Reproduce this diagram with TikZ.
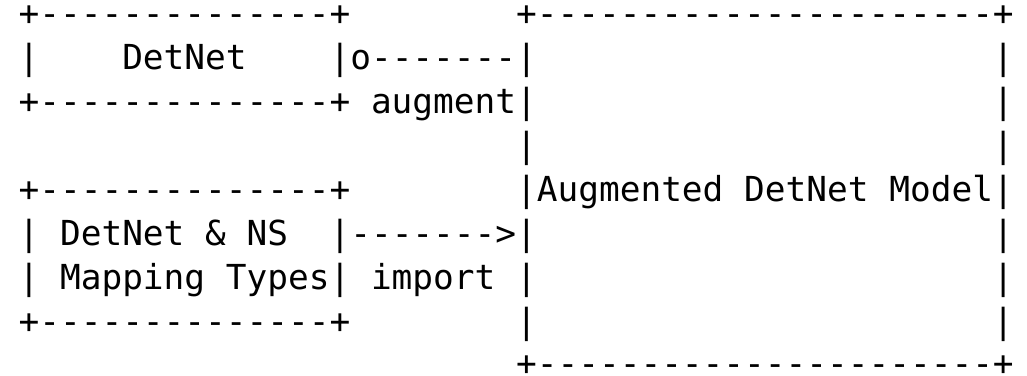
\documentclass[tikz,border=0pt]{standalone}
\usepackage{fontspec}
\newfontfamily\asciifont{DejaVu Sans Mono}
\begin{document}
\begin{tikzpicture}[x=1pt,y=-1pt,
  txt/.style={anchor=base west,inner sep=0pt,outer sep=0pt,text=black,
    font=\asciifont\fontsize{34.44}{44}\selectfont}]
\useasboundingbox[fill=white] (0,0) rectangle (1027,375);
% row 1
\node[txt] (r1a) at (18.6,25) {+--------------+};
\node[txt] (r1b) at (516.12,25) {+----------------------+};
% row 2
\node[txt] (r2a) at (18.6,69) {|};
\node[txt] (r2b) at (122.25,69) {DetNet};
\node[txt] (r2c) at (329.55,69) {|o-------|};
\node[txt] (r2d) at (992.91,69) {|};
% row 3
\node[txt] (r3a) at (18.6,113) {+--------------+};
\node[txt] (r3b) at (371.01,113) {augment|};
\node[txt] (r3c) at (992.91,113) {|};
% row 4
\node[txt] (r4a) at (516.12,157) {|};
\node[txt] (r4b) at (992.91,157) {|};
% row 5
\node[txt] (r5a) at (18.6,201) {+--------------+};
\node[txt] (r5b) at (516.12,201) {|Augmented DetNet Model|};
% row 6
\node[txt] (r6a) at (18.6,245) {| DetNet \& NS};
\node[txt] (r6b) at (329.55,245) {|------->|};
\node[txt] (r6c) at (992.91,245) {|};
% row 7
\node[txt] (r7a) at (18.6,289) {| Mapping Types|};
\node[txt] (r7b) at (371.01,289) {import};
\node[txt] (r7c) at (516.12,289) {|};
\node[txt] (r7d) at (992.91,289) {|};
% row 8
\node[txt] (r8a) at (18.6,333) {+--------------+};
\node[txt] (r8b) at (516.12,333) {|};
\node[txt] (r8c) at (992.91,333) {|};
% row 9
\node[txt] (r9a) at (516.12,375) {+----------------------+};
\end{tikzpicture}
\end{document}
